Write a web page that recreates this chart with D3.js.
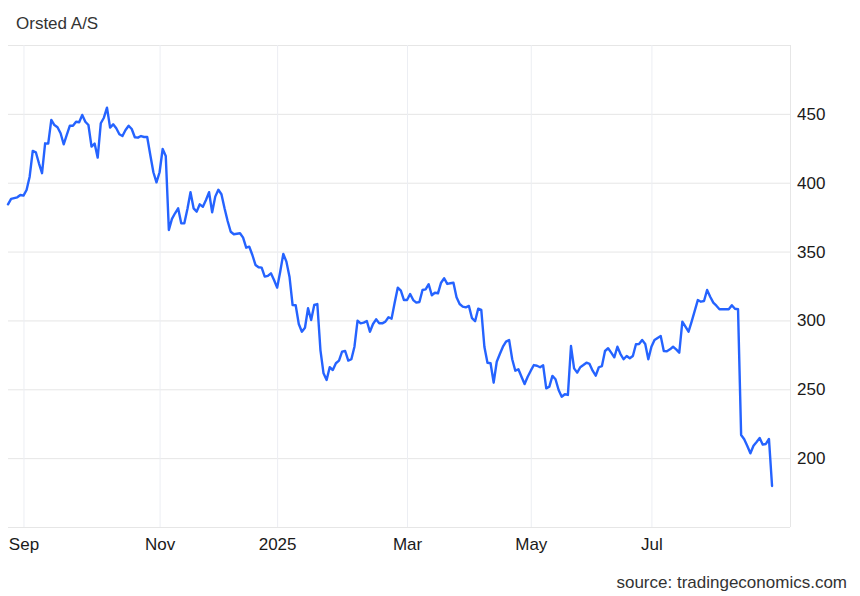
<!DOCTYPE html>
<html><head><meta charset="utf-8">
<script src="https://cdn.jsdelivr.net/npm/d3@7"></script>
<style>body{margin:0;background:#fff}svg{display:block}</style>
</head><body><svg id="c" width="860" height="596"></svg>
<script>
// trading-session index (from first point) and closing price
const sessions = [0,1,3,4,5,6,7,8,9,10,11,12,13,14,15,16,17,18,19,20,21,22,23,24,25,26,27,28,29,30,31,32,33,34,35,36,37,38,39,40,41,42,43,44,45,46,47,48,49,50,51,52,53,54,55,56,57,58,59,60,61,62,63,64,65,66,67,68,69,70,71,72,73,75,76,77,78,79,80,81,82,83,84,85,86,87,88,89,90,91,92,93,94,95,96,97,98,99,100,101,102,103,104,105,106,107,108,109,110,111,112,113,114,115,116,117,118,119,120,121,122,123,124,125,126,127,128,129,130,131,132,133,134,135,136,137,138,139,140,141,142,143,144,145,146,147,148,149,150,151,152,153,154,155,156,157,158,159,160,161,162,163,164,165,166,167,168,169,170,171,172,173,174,175,176,177,178,179,180,181,182,183,184,185,186,187,188,189,190,191,192,193,194,195,196,197,198,199,200,201,202,203,204,205,206,207,208,209,210,211,212,213,214,215,216,217,218,219,220,221,223,224,225,226,227,228,229,230,231,233,234,235,236,237,238,239,240,241,242,243,244,245,246,247];
const closes = [384.3,388.2,389.4,391.1,390.6,394.7,404.4,423.1,422.1,414.1,406.9,428.6,428.4,445.6,441.9,440.3,435.9,427.9,434.7,441.4,441.4,444.3,443.9,449.2,444.3,441.9,426.2,428.4,418.2,443.2,447.2,454.5,440,442.4,439.5,435.2,433.9,438.3,441.4,439,433,432.7,433.9,433.2,433.2,420.1,407.6,400.3,407.6,424.5,419.4,365.7,373.7,377.8,381.4,370.5,370.5,380.9,393.1,381.4,379,384.3,382.6,387.5,393.1,378.5,389.9,394.9,391.6,381.4,372.2,364.4,362.6,363.3,360.1,352.8,353.6,347.5,340.3,338.6,338.3,331.8,332.3,334.2,329.4,323.8,335.4,348.3,342.7,331.8,311.2,311,297.4,291.8,294.7,308.8,300.3,311.2,311.9,278.5,261.6,256.8,266,264,268.9,270.8,277.3,277.8,270.8,271.8,280.9,299.8,297.9,298.4,299.6,291.8,297.4,300.8,297.9,297.9,299.1,302.3,301.3,312.9,323.8,321.6,314.8,314.8,319.2,314.8,312.9,313.4,322.1,322.6,326.3,318.3,320.1,319.7,327.4,330.6,326.5,327,327.4,316.8,311.9,310,309.5,310.5,301.6,299.4,308.5,307.6,280.9,269.3,268.9,254.8,270,275.6,280.9,284.6,285.8,271.8,263.5,264.5,259.1,253.8,259.1,263.5,267.6,267.1,266,267.4,250.7,251.9,259.7,257.3,249.5,244.6,246.4,245.9,281.4,265.2,262.1,266,267.6,269.3,268.4,263.5,259.9,266,266.9,277.8,279.8,276.6,273.2,280.9,275.6,271.8,274.2,272.5,274.2,282.7,282.9,285.8,282.9,271.8,280.9,285.8,287.3,288.7,277.8,277.6,279,280.9,279,276.6,299.1,295.5,291.8,299.1,314.8,313.6,314.1,322.1,317.2,312.9,310.7,308.1,308.1,308.1,311,308.5,308.1,216.8,213.7,208.8,203.5,209,211.7,214.6,209.8,210.3,213.9,179.8];
const monthTickSessions = [5,49,87,129,169,208];
const monthTickLabels = ["Sep","Nov","2025","Mar","May","Jul"];
const priceTicks = [200,250,300,350,400,450];
const priceGrid = [150,200,250,300,350,400,450,500];
const titleText = "Orsted A/S";
const sourceText = "source: tradingeconomics.com";

const FONT = "Arial, 'Liberation Sans', Helvetica, sans-serif";
const svg = d3.select("#c");
svg.append("rect").attr("width",860).attr("height",596).attr("fill","#fff");

const L = 8, R = 790, T = 45, B = 527;
const x = d3.scaleLinear().domain([0, 252.8]).range([L, R]);
const y = d3.scaleLinear().domain([150, 500]).range([B, T]);

// horizontal grid
const hg = svg.append("g").attr("transform",`translate(${L},0)`)
  .call(d3.axisRight(y).tickValues(priceGrid).tickSize(R-L).tickFormat(""));
hg.select(".domain").remove();
hg.selectAll(".tick line").attr("stroke","#e6e6e6").attr("stroke-width",1);

// vertical grid
const vg = svg.append("g").attr("transform",`translate(0,${T})`)
  .call(d3.axisBottom(x).tickValues(monthTickSessions).tickSize(B-T).tickFormat(""));
vg.select(".domain").remove();
vg.selectAll(".tick line").attr("stroke","#eceef3").attr("stroke-width",1);

// right border
svg.append("line").attr("x1",R+0.5).attr("x2",R+0.5).attr("y1",T).attr("y2",B)
  .attr("stroke","#e6e6e6");

// y labels
const ya = svg.append("g").attr("transform",`translate(${R},0)`)
  .call(d3.axisRight(y).tickValues(priceTicks).tickSize(0).tickPadding(7));
ya.select(".domain").remove();
ya.selectAll("text").attr("font-family",FONT).attr("font-size",17).attr("fill","#1a1a1a");

// x labels
const xa = svg.append("g").attr("transform",`translate(0,${B})`)
  .call(d3.axisBottom(x).tickValues(monthTickSessions).tickSize(0).tickPadding(11)
    .tickFormat((d,i)=>monthTickLabels[i]));
xa.select(".domain").remove();
xa.selectAll("text").attr("font-family",FONT).attr("font-size",17).attr("fill","#1a1a1a");

// line
const data = sessions.map((s,i)=>({s, v: closes[i]}));
svg.append("path").datum(data)
  .attr("fill","none").attr("stroke","#2563ff").attr("stroke-width",2.4)
  .attr("stroke-linejoin","round").attr("stroke-linecap","round")
  .attr("d", d3.line().x(d=>x(d.s)).y(d=>y(d.v)));

// title & source
svg.append("text").attr("x",16).attr("y",29).text(titleText)
  .attr("font-family",FONT).attr("font-size",17).attr("fill","#333");
svg.append("text").attr("x",847).attr("y",588).attr("text-anchor","end").text(sourceText)
  .attr("font-family",FONT).attr("font-size",17).attr("fill","#333");
</script></body></html>
